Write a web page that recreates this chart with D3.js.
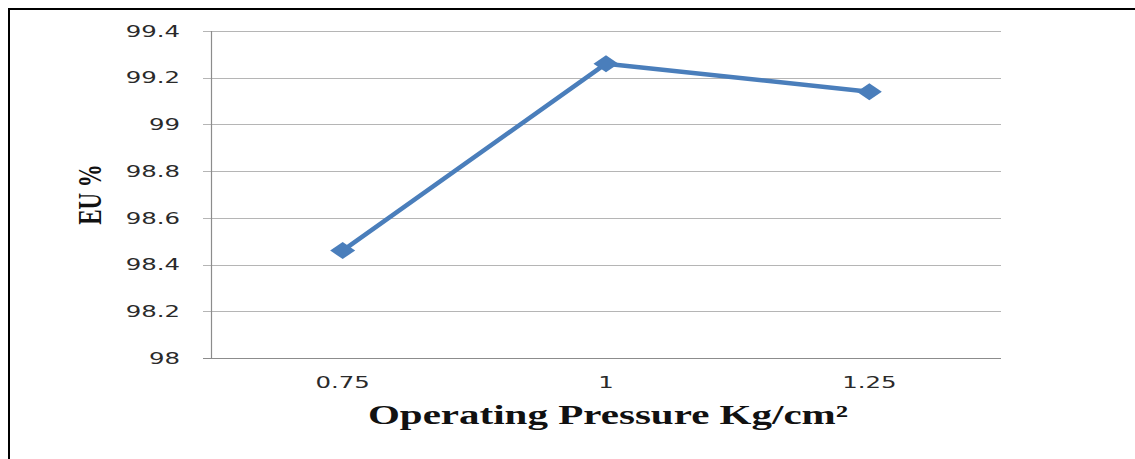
<!DOCTYPE html>
<html><head><meta charset="utf-8">
<script src="https://cdn.jsdelivr.net/npm/d3@7"></script>
<style>body{margin:0;background:#fff}svg{display:block}</style>
</head><body><div id="chart"></div>
<script>
const categories = ["0.75", "1", "1.25"];
const values = [98.46, 99.26, 99.14];
const yTicks = [98, 98.2, 98.4, 98.6, 98.8, 99, 99.2, 99.4];
const xTitle = "Operating Pressure Kg/cm²";
const yTitle = "EU %";

(function () {
const W = 1135, H = 459;
const SX = 1.48; // horizontal stretch of the text in the reference
const svg = d3.select("#chart").append("svg").attr("width", W).attr("height", H);
svg.append("rect").attr("width", W).attr("height", H).attr("fill", "#fff");
// outer frame (top and left)
svg.append("line").attr("x1", 8).attr("x2", W).attr("y1", 9).attr("y2", 9).attr("stroke", "#000").attr("stroke-width", 2);
svg.append("line").attr("x1", 9).attr("x2", 9).attr("y1", 8).attr("y2", H).attr("stroke", "#000").attr("stroke-width", 2);

const pl = 211, pr = 1001, pt = 31, pb = 358;
const x = d3.scaleBand().domain(categories).range([pl, pr]);
const y = d3.scaleLinear().domain([98, 99.4]).range([pb, pt]);

// gridlines
svg.append("g").selectAll("line").data(yTicks).join("line")
  .attr("x1", pl - 8).attr("x2", pr)
  .attr("y1", d => Math.round(y(d)) + 0.5).attr("y2", d => Math.round(y(d)) + 0.5)
  .attr("stroke", d => d === 98 ? "#8c8c8c" : "#b5b5b5").attr("stroke-width", 1.2);
// y axis line
svg.append("line").attr("x1", pl + 0.5).attr("x2", pl + 0.5).attr("y1", pt).attr("y2", pb)
  .attr("stroke", "#8c8c8c").attr("stroke-width", 1.2);

const yAxis = d3.axisLeft(y).tickValues(yTicks).tickSize(0).tickPadding(31)
  .tickFormat(d => String(+d.toFixed(1)));
const gy = svg.append("g").attr("transform", `translate(${pl},0)`).call(yAxis);
gy.select(".domain").remove();
gy.selectAll("text").attr("font-family", "DejaVu Sans, Verdana, sans-serif").attr("font-size", 16.5).attr("fill", "#2a2a2a")
  .attr("x", 0).attr("transform", `translate(-31,0) scale(${SX},1)`);

const xAxis = d3.axisBottom(x).tickSize(0).tickPadding(18);
const gx = svg.append("g").attr("transform", `translate(0,${pb})`).call(xAxis);
gx.select(".domain").remove();
gx.selectAll("text").attr("font-family", "DejaVu Sans, Verdana, sans-serif").attr("font-size", 16.5).attr("fill", "#2a2a2a")
  .attr("transform", `scale(${SX},1)`);

// line
const pts = categories.map((c, i) => [x(c) + x.bandwidth() / 2, y(values[i])]);
svg.append("path").datum(pts).attr("d", d3.line())
  .attr("fill", "none").attr("stroke", "#4a7ebb").attr("stroke-width", 4.5).attr("stroke-linejoin", "round");
svg.append("g").selectAll("path").data(pts).join("path")
  .attr("d", d => `M${d[0] - 12.5},${d[1]} L${d[0]},${d[1] - 8.5} L${d[0] + 12.5},${d[1]} L${d[0]},${d[1] + 8.5} Z`)
  .attr("fill", "#4a7ebb");

// titles
svg.append("text").attr("transform", `translate(${(pl + pr) / 2 + 2},424) scale(1.52,1)`).attr("text-anchor", "middle")
  .attr("font-family", "Liberation Serif, Times New Roman, serif").attr("font-weight", "bold")
  .attr("font-size", 27).attr("fill", "#111").text(xTitle);
svg.append("text").attr("transform", `translate(101,${(pt + pb) / 2}) scale(${SX},1) rotate(-90)`).attr("text-anchor", "middle")
  .attr("font-family", "Liberation Serif, Times New Roman, serif").attr("font-weight", "bold")
  .attr("font-size", 23).attr("fill", "#111").text(yTitle);
})();
</script></body></html>
